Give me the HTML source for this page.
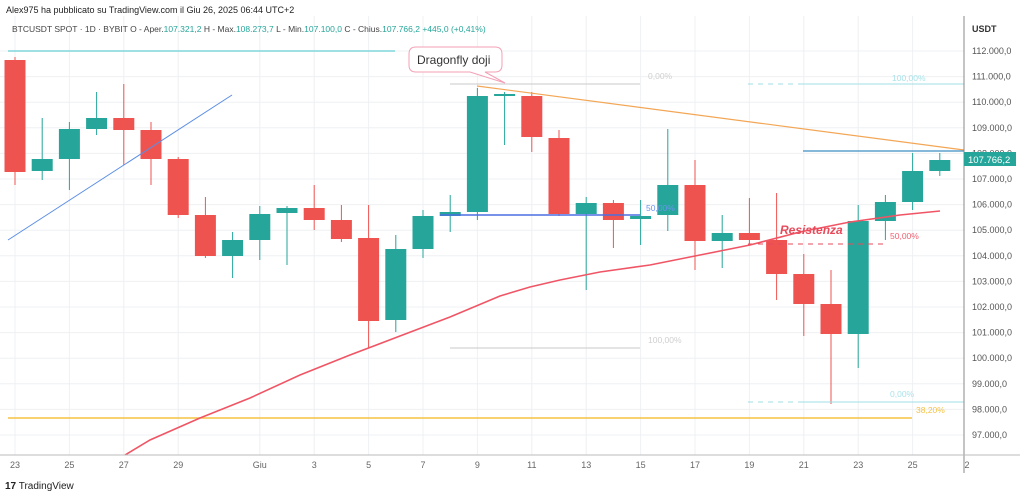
<!DOCTYPE html>
<html><head><meta charset="utf-8"><style>
body{margin:0;background:#fff;width:1024px;height:497px;overflow:hidden;font-family:"Liberation Sans",sans-serif}
svg{position:absolute;left:0;top:0}
</style></head><body>
<svg width="1024" height="497" xmlns="http://www.w3.org/2000/svg" font-family="Liberation Sans, sans-serif">
<g stroke="#eef0f3" stroke-width="1" id="grid"></g>
<g id="c"></g>
<!-- lines -->
<line x1="8" y1="51" x2="395" y2="51" stroke="#7fd6dc" stroke-width="1.5"/>
<line x1="8" y1="240" x2="232" y2="95" stroke="#5b8ee6" stroke-width="1"/>
<line x1="450" y1="84" x2="640" y2="84" stroke="#c9c9c9"/>
<line x1="450" y1="348" x2="640" y2="348" stroke="#c9c9c9"/>
<line x1="440" y1="215" x2="640" y2="215" stroke="#4a6fe0" stroke-width="1.5"/>
<line x1="477" y1="86" x2="964" y2="150" stroke="#f3a655" stroke-width="1.2"/>
<line x1="803" y1="151" x2="964" y2="151" stroke="#3f8ec4" stroke-width="1.2"/>
<line x1="748" y1="84" x2="800" y2="84" stroke="#9fdfe6" stroke-dasharray="5,5"/>
<line x1="800" y1="84" x2="964" y2="84" stroke="#9fdfe6"/>
<line x1="748" y1="402" x2="800" y2="402" stroke="#9fdfe6" stroke-dasharray="5,5"/>
<line x1="800" y1="402" x2="964" y2="402" stroke="#9fdfe6"/>
<line x1="748" y1="244" x2="885" y2="244" stroke="#ea4a5a" stroke-dasharray="5,5"/>
<line x1="8" y1="418" x2="912" y2="418" stroke="#f5c242" stroke-width="1.5"/>
<polyline fill="none" stroke="#f05565" stroke-width="1.6" points="125,455 150,440 200,418 250,398 300,375 350,355 400,336 450,317 500,296 530,287 560,280 600,272 650,265 700,255 750,245 800,232 850,222 900,215 940,211"/>
<!-- fib labels -->
<g font-size="8.5">
<text x="648" y="79" fill="#cfcfcf">0,00%</text>
<text x="648" y="343" fill="#cfcfcf">100,00%</text>
<text x="646" y="211" fill="#6a92ee">50,00%</text>
<text x="892" y="81" fill="#a9e3ea">100,00%</text>
<text x="890" y="397" fill="#a9e3ea">0,00%</text>
<text x="890" y="239" fill="#f06070">50,00%</text>
<text x="916" y="413" fill="#f5c242">38,20%</text>
</g>
<text x="780" y="234" fill="#e84a5a" font-size="12" font-weight="bold" font-style="italic">Resistenza</text>
<!-- callout -->
<path d="M416,47 H495 Q502,47 502,54 V65 Q502,72 495,72 H485 L505,83 L470,72 H416 Q409,72 409,65 V54 Q409,47 416,47 Z" fill="#fff" stroke="#f3a0b6"/>
<text x="417" y="64" font-size="12" fill="#333">Dragonfly doji</text>
<!-- axes -->
<line x1="964" y1="16" x2="964" y2="473" stroke="#888"/>
<line x1="0" y1="455" x2="1020" y2="455" stroke="#bbb"/>
<g font-size="9" fill="#555" id="yl"></g>
<text x="972" y="32" font-size="9" fill="#333" font-weight="bold">USDT</text>
<rect x="964" y="152" width="52" height="14" fill="#26a69a"/>
<text x="968" y="163" font-size="9.5" fill="#fff">107.766,2</text>
<g font-size="9" fill="#666" text-anchor="middle" id="xl"></g>
<text x="6" y="13" font-size="9" fill="#222">Alex975 ha pubblicato su TradingView.com il Giu 26, 2025 06:44 UTC+2</text>
<text x="12" y="32" font-size="8.5" fill="#444">BTCUSDT SPOT · 1D · BYBIT  O - Aper.<tspan fill="#26a69a">107.321,2</tspan>  H - Max.<tspan fill="#26a69a">108.273,7</tspan>  L - Min.<tspan fill="#26a69a">107.100,0</tspan>  C - Chius.<tspan fill="#26a69a">107.766,2</tspan>  <tspan fill="#26a69a">+445,0 (+0,41%)</tspan></text>
<text x="5" y="489" font-size="10" fill="#222"><tspan font-weight="bold">17</tspan> TradingView</text>
</svg>
<script>
const ns="http://www.w3.org/2000/svg";
function el(p,t,a,txt){const e=document.createElementNS(ns,t);for(const k in a)e.setAttribute(k,a[k]);if(txt)e.textContent=txt;document.getElementById(p).appendChild(e);}
for(let p=97;p<=112;p++){const y=51+(112-p)*25.6;el('grid','line',{x1:0,y1:y,x2:964,y2:y});el('yl','text',{x:972,y:y+3},p+'.000,0');}
const labels=[[0,'23'],[2,'25'],[4,'27'],[6,'29'],[9,'Giu'],[11,'3'],[13,'5'],[15,'7'],[17,'9'],[19,'11'],[21,'13'],[23,'15'],[25,'17'],[27,'19'],[29,'21'],[31,'23'],[33,'25'],[35,'2']];
labels.forEach(([i,t])=>{const x=15+27.2*i;if(i<35)el('grid','line',{x1:x,y1:16,x2:x,y2:455});el('xl','text',{x:x,y:468},t);});
// [top,bottom,high,low,green]
const C=[[60,172,57,185,0],[159,171,118,180,1],[129,159,122,190,1],[118,129,92,135,1],[118,130,84,165,0],[130,159,122,185,0],[159,215,157,218,0],[215,256,197,258,0],[240,256,232,278,1],[214,240,206,260,1],[208,213,206,265,1],[208,220,185,230,0],[220,239,205,242,0],[238,321,205,348,0],[249,320,235,332,1],[216,249,210,258,1],[212,216,195,232,1],[96,212,88,220,1],[94,96,92,145,1],[96,137,92,152,0],[138,214,130,216,0],[203,214,197,290,1],[203,220,200,248,0],[216,219,200,245,1],[185,215,129,231,1],[185,241,160,270,0],[233,241,215,268,1],[233,240,198,245,0],[240,274,193,300,0],[274,304,254,336,0],[304,334,270,404,0],[221,334,205,368,1],[202,221,195,240,1],[171,202,153,210,1],[160,171,153,176,1]];
C.forEach((c,i)=>{const x=15+27.2*i;const col=c[4]?'#26a69a':'#ef5350';el('c','line',{x1:x,y1:c[2],x2:x,y2:c[3],stroke:col,'stroke-width':1});el('c','rect',{x:x-10.5,y:c[0],width:21,height:Math.max(2,c[1]-c[0]),fill:col});});
</script>
</body></html>
